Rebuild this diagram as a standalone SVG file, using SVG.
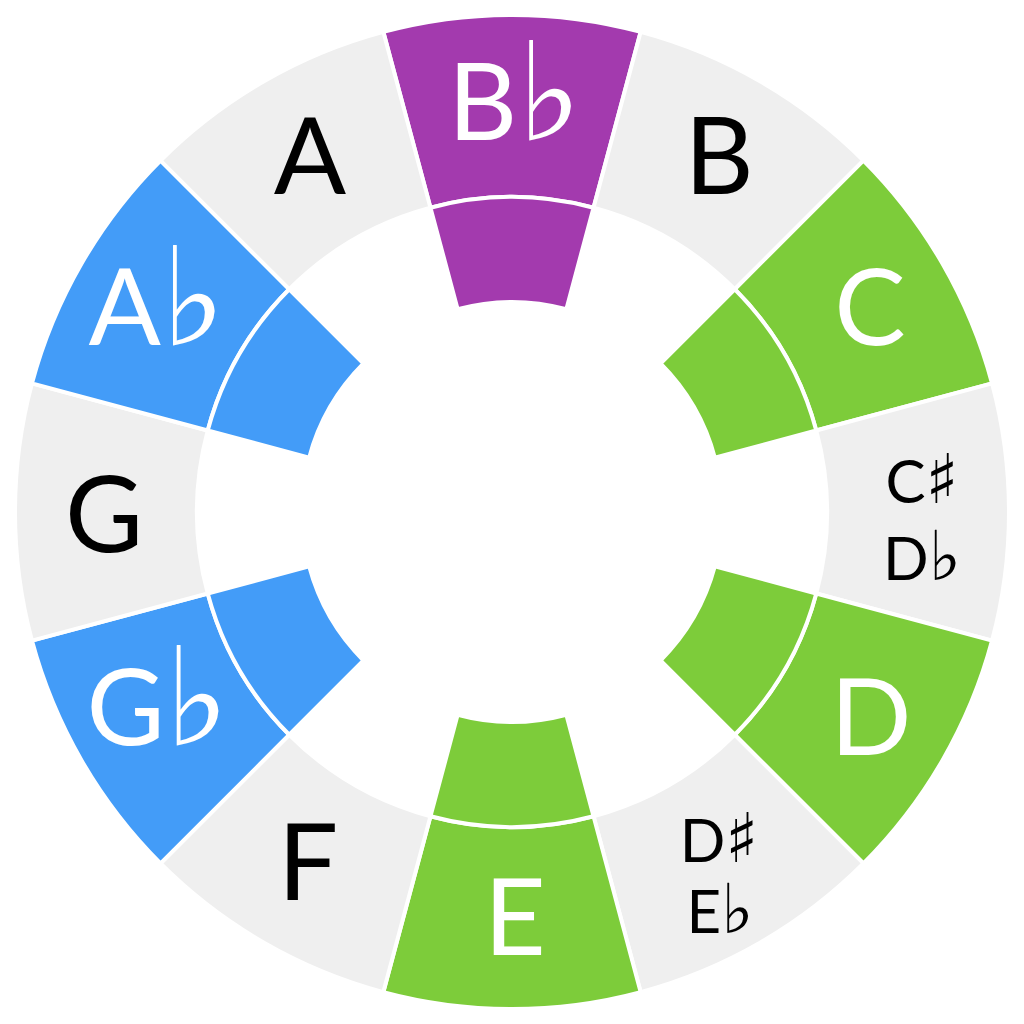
<svg xmlns="http://www.w3.org/2000/svg" width="1024" height="1024" viewBox="0 0 1024 1024">
<style>
.seg{stroke:#fff;stroke-width:4;stroke-linejoin:miter}
.grey{fill:#EFEFEF}
.purple{fill:#A33AAE}
.green{fill:#7DCC3A}
.blue{fill:#439CF8}
.lbl{font-family:Lato,"Open Sans","DejaVu Sans",sans-serif;font-size:107px;text-anchor:middle}
.sm{font-size:60px}
.acc{font-family:"DejaVu Sans",sans-serif;font-size:1.28em}
.sm .acc{font-size:1.14em}
.w{fill:#fff}
.k{fill:#000}
</style>
<rect width="1024" height="1024" fill="#fff"/>
<g id="Bb">
<path class="seg purple" d="M383.37,31.93 A497,497 0 0 1 640.63,31.93 L593.53,207.73 A315,315 0 0 0 430.47,207.73 Z"/>
<path class="seg purple" d="M430.47,207.73 A315,315 0 0 1 593.53,207.73 L566.35,309.16 A210,210 0 0 0 457.65,309.16 Z"/>
<text class="lbl w" x="515" y="140">B<tspan class="acc">♭</tspan></text>
</g>
<g id="B">
<path class="seg grey" d="M640.63,31.93 A497,497 0 0 1 863.43,160.57 L734.74,289.26 A315,315 0 0 0 593.53,207.73 Z"/>
<text class="lbl k" x="719" y="194">B</text>
</g>
<g id="C">
<path class="seg green" d="M863.43,160.57 A497,497 0 0 1 992.07,383.37 L816.27,430.47 A315,315 0 0 0 734.74,289.26 Z"/>
<path class="seg green" d="M734.74,289.26 A315,315 0 0 1 816.27,430.47 L714.84,457.65 A210,210 0 0 0 660.49,363.51 Z"/>
<text class="lbl w" x="870" y="345">C</text>
</g>
<g id="CsDb">
<path class="seg grey" d="M992.07,383.37 A497,497 0 0 1 992.07,640.63 L816.27,593.53 A315,315 0 0 0 816.27,430.47 Z"/>
<text class="lbl sm k" x="922" y="503">C<tspan class="acc">♯</tspan></text>
<text class="lbl sm k" x="922" y="580">D<tspan class="acc">♭</tspan></text>
</g>
<g id="D">
<path class="seg green" d="M992.07,640.63 A497,497 0 0 1 863.43,863.43 L734.74,734.74 A315,315 0 0 0 816.27,593.53 Z"/>
<path class="seg green" d="M816.27,593.53 A315,315 0 0 1 734.74,734.74 L660.49,660.49 A210,210 0 0 0 714.84,566.35 Z"/>
<text class="lbl w" x="871" y="755">D</text>
</g>
<g id="DsEb">
<path class="seg grey" d="M863.43,863.43 A497,497 0 0 1 640.63,992.07 L593.53,816.27 A315,315 0 0 0 734.74,734.74 Z"/>
<text class="lbl sm k" x="719" y="862">D<tspan class="acc">♯</tspan></text>
<text class="lbl sm k" x="720" y="933">E<tspan class="acc">♭</tspan></text>
</g>
<g id="E">
<path class="seg green" d="M640.63,992.07 A497,497 0 0 1 383.37,992.07 L430.47,816.27 A315,315 0 0 0 593.53,816.27 Z"/>
<path class="seg green" d="M593.53,816.27 A315,315 0 0 1 430.47,816.27 L457.65,714.84 A210,210 0 0 0 566.35,714.84 Z"/>
<text class="lbl w" x="515" y="955">E</text>
</g>
<g id="F">
<path class="seg grey" d="M383.37,992.07 A497,497 0 0 1 160.57,863.43 L289.26,734.74 A315,315 0 0 0 430.47,816.27 Z"/>
<text class="lbl k" x="308" y="900">F</text>
</g>
<g id="Gb">
<path class="seg blue" d="M160.57,863.43 A497,497 0 0 1 31.93,640.63 L207.73,593.53 A315,315 0 0 0 289.26,734.74 Z"/>
<path class="seg blue" d="M289.26,734.74 A315,315 0 0 1 207.73,593.53 L309.16,566.35 A210,210 0 0 0 363.51,660.49 Z"/>
<text class="lbl w" x="158" y="745">G<tspan class="acc">♭</tspan></text>
</g>
<g id="G">
<path class="seg grey" d="M31.93,640.63 A497,497 0 0 1 31.93,383.37 L207.73,430.47 A315,315 0 0 0 207.73,593.53 Z"/>
<text class="lbl k" x="104" y="552">G</text>
</g>
<g id="Ab">
<path class="seg blue" d="M31.93,383.37 A497,497 0 0 1 160.57,160.57 L289.26,289.26 A315,315 0 0 0 207.73,430.47 Z"/>
<path class="seg blue" d="M207.73,430.47 A315,315 0 0 1 289.26,289.26 L363.51,363.51 A210,210 0 0 0 309.16,457.65 Z"/>
<text class="lbl w" x="157" y="345">A<tspan class="acc">♭</tspan></text>
</g>
<g id="A">
<path class="seg grey" d="M160.57,160.57 A497,497 0 0 1 383.37,31.93 L430.47,207.73 A315,315 0 0 0 289.26,289.26 Z"/>
<text class="lbl k" x="310" y="194">A</text>
</g>
<g id="connectors"/>
</svg>
